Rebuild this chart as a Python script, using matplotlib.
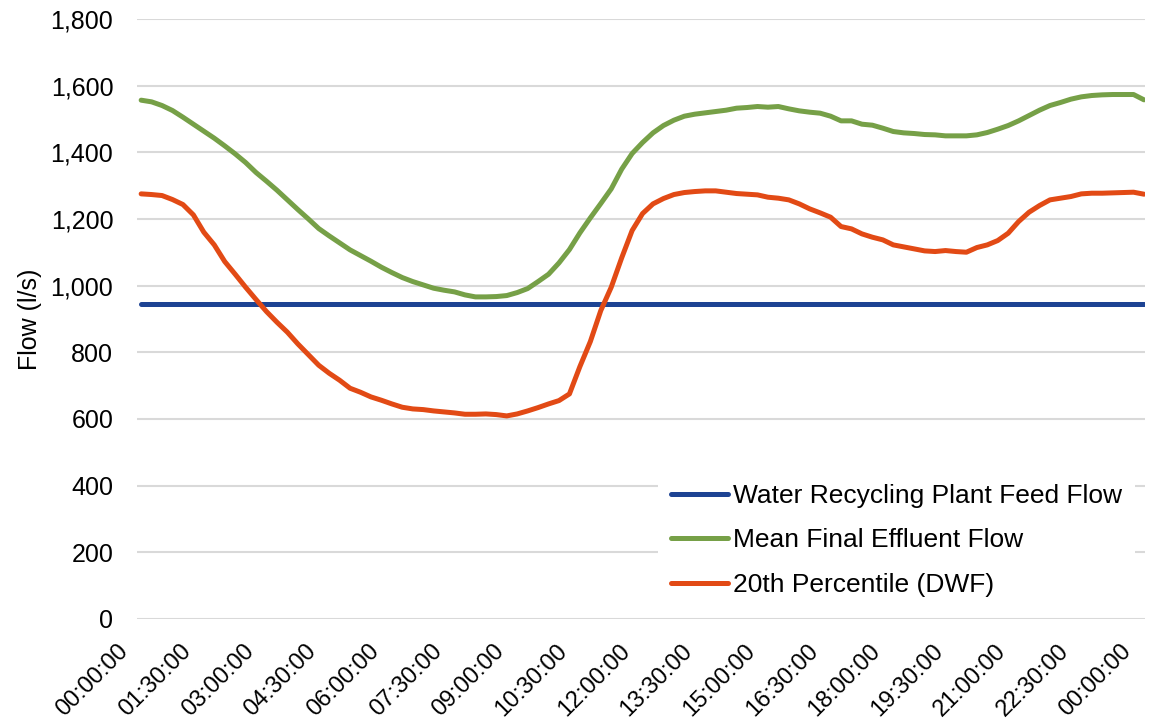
import numpy as np
import matplotlib
matplotlib.use("Agg")
import matplotlib.pyplot as plt
from matplotlib.transforms import ScaledTranslation

plt.rcParams['font.family'] = ['Liberation Sans', 'DejaVu Sans']

# 15 minute readings over one day (hours 0..24)
hours = np.arange(97) * 0.25

feed_flow = 945  # l/s, constant plant feed

mean_flow = [
    1556, 1551, 1540, 1525, 1505, 1484, 1463, 1442, 1419, 1395,
    1369, 1339, 1313, 1286, 1257, 1228, 1200, 1171, 1149, 1128,
    1107, 1090, 1073, 1055, 1039, 1024, 1012, 1002, 992, 986,
    981, 972, 966, 966, 967, 970, 979, 991, 1012, 1034,
    1068, 1108, 1158, 1203, 1246, 1290, 1349, 1396, 1429, 1458,
    1480, 1496, 1508, 1514, 1518, 1522, 1526, 1532, 1534, 1537,
    1535, 1537, 1530, 1524, 1520, 1517, 1508, 1494, 1494, 1484,
    1481, 1472, 1462, 1458, 1456, 1453, 1452, 1449, 1449, 1449,
    1452, 1459, 1469, 1480, 1494, 1510, 1526, 1540, 1549, 1559,
    1566, 1570, 1572, 1573, 1573, 1573, 1557,
]

dwf_flow = [
    1275, 1273, 1270, 1258, 1243, 1212, 1160, 1122, 1072, 1034,
    995, 958, 922, 890, 860, 825, 793, 761, 737, 716,
    692, 680, 666, 656, 645, 635, 630, 628, 624, 621,
    618, 614, 614, 615, 613, 609, 615, 624, 634, 645,
    655, 675, 757, 832, 925, 995, 1083, 1165, 1216, 1245,
    1261, 1273, 1279, 1282, 1284, 1284, 1280, 1276, 1274, 1272,
    1265, 1262, 1257, 1245, 1230, 1218, 1205, 1177, 1170, 1155,
    1145, 1137, 1122, 1116, 1110, 1104, 1102, 1105, 1102, 1100,
    1114, 1122, 1135, 1157, 1192, 1220, 1240, 1257, 1262, 1267,
    1275, 1277, 1277, 1278, 1279, 1280, 1274,
]

tick_hours = np.arange(0, 24.01, 1.5)
tick_labels = ['00:00:00', '01:30:00', '03:00:00', '04:30:00', '06:00:00',
               '07:30:00', '09:00:00', '10:30:00', '12:00:00', '13:30:00',
               '15:00:00', '16:30:00', '18:00:00', '19:30:00', '21:00:00',
               '22:30:00', '00:00:00']

fig = plt.figure(figsize=(11.51, 7.27), dpi=100)
ax = fig.add_axes([0.119, 0.1486, 0.876, 0.8255])

lw = 3.6
ax.plot(hours, [feed_flow] * len(hours), color='#1d4393', lw=lw,
        solid_capstyle='round', label='Water Recycling Plant Feed Flow', zorder=3)
ax.plot(hours, mean_flow, color='#76a047', lw=lw, solid_capstyle='round',
        label='Mean Final Effluent Flow', zorder=3)
ax.plot(hours, dwf_flow, color='#e24a15', lw=lw, solid_capstyle='round',
        label='20th Percentile (DWF)', zorder=3)

ax.set_xlim(-0.1, 24.03)
ax.set_ylim(0, 1800)
ax.set_yticks(range(0, 1801, 200))
ax.yaxis.set_major_formatter(matplotlib.ticker.StrMethodFormatter('{x:,.0f}'))
ax.grid(axis='y', color='#d9d9d9', lw=1.5)
ax.set_axisbelow(True)
for s in ax.spines.values():
    s.set_visible(False)

ax.set_xticks(tick_hours)
ax.set_xticklabels(tick_labels, rotation=45, ha='right', va='center',
                   rotation_mode='anchor')
ax.tick_params(axis='x', length=0, pad=21, labelsize=17, colors='#000000')
ax.tick_params(axis='y', length=0, pad=17, labelsize=18, colors='#000000')
shift = ScaledTranslation(-0.16, 0, fig.dpi_scale_trans)
for lab in ax.get_xticklabels():
    lab.set_transform(lab.get_transform() + shift)

ax.set_ylabel('Flow (l/s)', fontsize=18)
ax.yaxis.set_label_coords(-0.094, 0.5)

leg = ax.legend(loc='lower right', bbox_to_anchor=(1.003, -0.007), fontsize=19,
                frameon=True, fancybox=False, edgecolor='white',
                framealpha=1.0, handlelength=2.16, handletextpad=0.19,
                labelspacing=0.77, borderpad=0.5)
leg.get_frame().set_linewidth(0)

fig.savefig('out.png', dpi=100, facecolor='white')
